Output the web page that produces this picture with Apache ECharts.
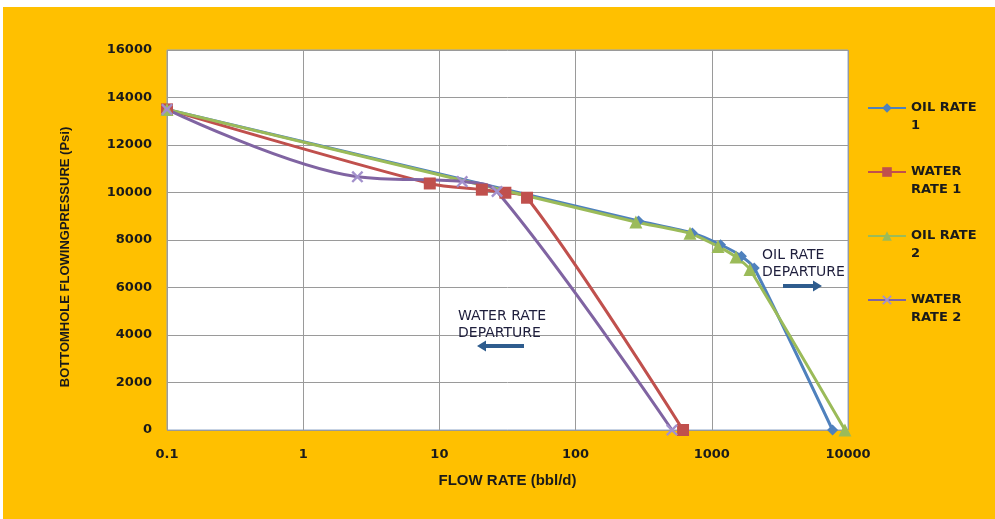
<!DOCTYPE html>
<html>
<head>
<meta charset="utf-8">
<script src="https://cdn.jsdelivr.net/npm/echarts@6/dist/echarts.min.js"></script>
<style>
html,body{margin:0;padding:0;background:#fff;}
#c{width:995px;height:519px;}
</style>
</head>
<body>
<div id="c"></div>
<script>
// ---- data ----
var seriesNames = ['OIL RATE 1', 'WATER RATE 1', 'OIL RATE 2', 'WATER RATE 2'];
var oilRate1 = [[0.1, 13500], [290, 8800], [720, 8300], [1160, 7800], [1650, 7320], [2050, 6820], [7700, 0]];
var waterRate1 = [[0.1, 13500], [8.5, 10380], [20.5, 10120], [30.5, 9990], [44, 9780], [615, 0]];
var oilRate2 = [[0.1, 13500], [277, 8760], [692, 8280], [1111, 7730], [1506, 7280], [1907, 6760], [9500, 0]];
var waterRate2 = [[0.1, 13500], [2.5, 10660], [14.7, 10460], [26.5, 10040], [510, 0]];
var xTicks = [0.1, 1, 10, 100, 1000, 10000];
var yMin = 0, yMax = 16000, yStep = 2000;

// legend labels as wrapped in the reference (leading blank line keeps the icon on the first text line)
var legendLabels = {
  'OIL RATE 1': ' \nOIL RATE\n1',
  'WATER RATE 1': ' \nWATER\nRATE 1',
  'OIL RATE 2': ' \nOIL RATE\n2',
  'WATER RATE 2': ' \nWATER\nRATE 2'
};

var xMark = 'path://M0,1.4L1.4,0L5,3.6L8.6,0L10,1.4L6.4,5L10,8.6L8.6,10L5,6.4L1.4,10L0,8.6L3.6,5Z';

var chart = echarts.init(document.getElementById('c'), null, {renderer: 'canvas'});
var tickFont = {fontFamily: 'DejaVu Sans', fontWeight: 'bold', fontSize: 13, color: '#1a1a1a'};
var titleFont = {fontFamily: 'Liberation Sans Narrow, Liberation Sans', fontWeight: 'bold', color: '#1a1a1a'};

chart.setOption({
  backgroundColor: '#FFC000',
  animation: false,
  grid: {left: 167, right: 147, top: 50, bottom: 89, show: true, backgroundColor: '#ffffff', borderColor: '#8FA6C9', borderWidth: 1},
  legend: {
    orient: 'vertical',
    left: 862,
    top: 76,
    itemGap: 10,
    itemWidth: 38,
    itemHeight: 12,
    data: seriesNames,
    formatter: function (n) { return legendLabels[n]; },
    textStyle: {fontFamily: 'DejaVu Sans', fontWeight: 'bold', fontSize: 13, color: '#1a1a1a', lineHeight: 18}
  },
  xAxis: {
    type: 'log',
    logBase: 10,
    min: xTicks[0],
    max: xTicks[xTicks.length - 1],
    name: 'FLOW RATE (bbl/d)',
    nameLocation: 'middle',
    nameGap: 43,
    nameTextStyle: Object.assign({fontSize: 15}, titleFont),
    axisLine: {show: false},
    axisTick: {show: false},
    splitLine: {show: true, lineStyle: {color: '#9a9a9a', width: 1}},
    axisLabel: Object.assign({margin: 18, formatter: function (v) { return String(+v); }}, tickFont)
  },
  yAxis: {
    type: 'value',
    min: yMin,
    max: yMax,
    interval: yStep,
    name: 'BOTTOMHOLE FLOWINGPRESSURE (Psi)',
    nameLocation: 'middle',
    nameGap: 95,
    nameTextStyle: Object.assign({fontSize: 13, padding: [0, 34, 0, 0]}, titleFont),
    axisLine: {show: false},
    axisTick: {show: false},
    splitLine: {show: true, lineStyle: {color: '#9a9a9a', width: 1}},
    axisLabel: Object.assign({margin: 15, formatter: function (v) { return String(v); }}, tickFont)
  },
  series: [
    {name: seriesNames[0], type: 'line', data: oilRate1, smooth: 0.2, symbol: 'diamond', symbolSize: 11,
      lineStyle: {color: '#4F81BD', width: 3}, itemStyle: {color: '#4F81BD'}},
    {name: seriesNames[1], type: 'line', data: waterRate1, smooth: 0.3, symbol: 'rect', symbolSize: 12,
      lineStyle: {color: '#C0504D', width: 3}, itemStyle: {color: '#C0504D'}},
    {name: seriesNames[2], type: 'line', data: oilRate2, smooth: 0.2, symbol: 'triangle', symbolSize: 13,
      lineStyle: {color: '#9BBB59', width: 3}, itemStyle: {color: '#9BBB59'}},
    {name: seriesNames[3], type: 'line', data: waterRate2, smooth: 0.35, symbol: xMark, symbolSize: 12,
      lineStyle: {color: '#8064A2', width: 3}, itemStyle: {color: '#A391CC'}}
  ],
  graphic: [
    {type: 'rect', left: 0, top: 0, shape: {width: 995, height: 7}, style: {fill: '#ffffff'}, silent: true},
    {type: 'rect', left: 0, top: 0, shape: {width: 3, height: 519}, style: {fill: '#ffffff'}, silent: true},
    {type: 'text', left: 762, top: 247, style: {text: 'OIL RATE\nDEPARTURE', font: '14px "DejaVu Sans"', fill: '#1e1e3c', lineHeight: 17}, z: 10},
    {type: 'text', left: 458, top: 308, style: {text: 'WATER RATE\nDEPARTURE', font: '14px "DejaVu Sans"', fill: '#1e1e3c', lineHeight: 17}, z: 10},
    {type: 'polygon', shape: {points: [[783, 284], [813, 284], [813, 280.5], [822, 286], [813, 291.5], [813, 288], [783, 288]]}, style: {fill: '#2E5C8E'}, z: 10},
    {type: 'polygon', shape: {points: [[524, 344], [486, 344], [486, 340.5], [477, 346], [486, 351.5], [486, 348], [524, 348]]}, style: {fill: '#2E5C8E'}, z: 10}
  ]
});
</script>
</body>
</html>
